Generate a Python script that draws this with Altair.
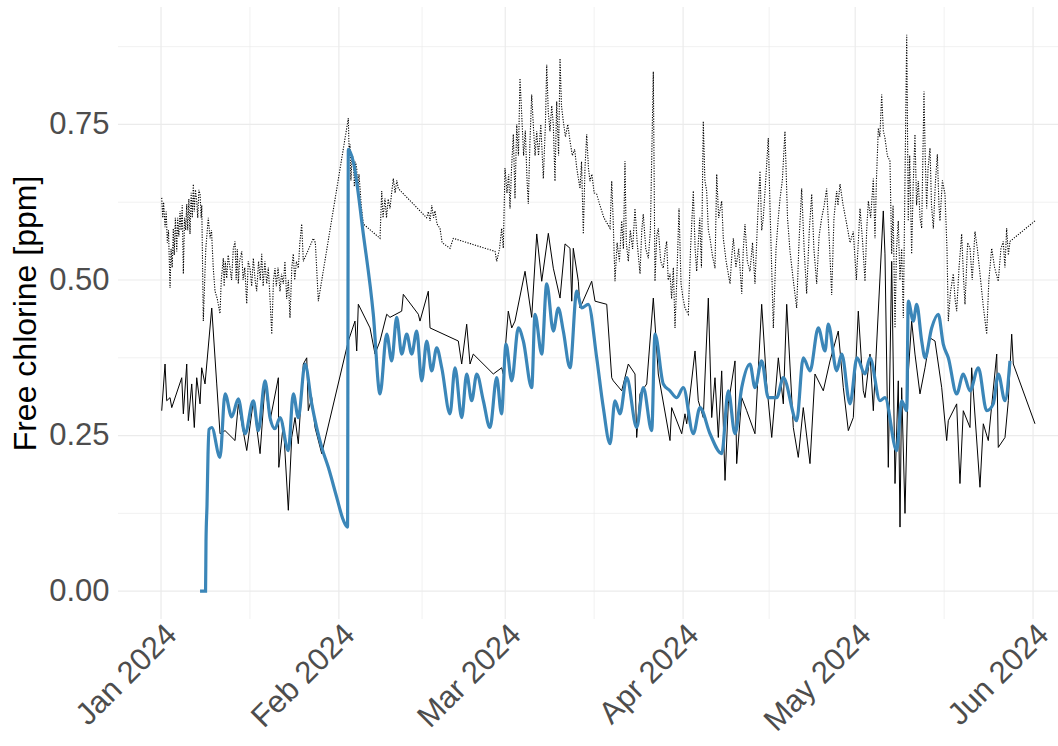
import altair as alt
import pandas as pd

# ---------------- data (days since 2024-01-01, free chlorine ppm) ----------------
dotted_days = [0.12, 0.30, 0.45, 0.70, 0.90, 1.10, 1.30, 1.57, 1.75, 1.95, 2.14, 2.30, 2.50, 2.74, 2.90,
               3.10, 3.31, 3.50, 3.70, 3.89, 4.10, 4.30, 4.48, 4.65, 4.85, 5.05, 5.25, 5.45, 5.63, 5.80,
               6.00, 6.22, 6.40, 6.60, 6.80, 7.00, 7.10, 7.37, 7.80, 8.24, 8.54, 8.80, 9.10, 9.41, 9.80,
               10.28, 10.50, 10.86, 11.00, 11.20, 11.45, 11.70, 12.03, 12.30, 12.60, 12.90, 13.10,
               13.30, 13.47, 13.70, 14.07, 14.30, 14.60, 14.94, 15.20, 15.51, 15.80, 16.09, 16.40,
               16.68, 17.00, 17.30, 17.55, 17.80, 18.10, 18.42, 18.70, 19.00, 19.30, 19.60, 19.87,
               20.10, 20.40, 20.74, 21.00, 21.32, 21.60, 21.90, 22.20, 22.48, 22.80, 23.06, 23.30,
               23.60, 23.93, 24.20, 24.52, 24.80, 26.55, 26.90, 27.42,
               32.65, 32.80, 32.94, 33.10, 33.30, 33.52, 33.70, 33.90, 34.11, 34.30, 34.50, 34.69,
               34.90, 35.26, 38.17, 38.47, 38.70, 39.04, 39.30, 39.60, 39.91, 40.20, 40.49, 40.80,
               41.10, 41.36, 46.30, 46.60, 46.89, 47.20, 47.50, 47.76, 48.10, 48.63, 49.00, 50.37,
               50.95, 58.22, 58.51, 59.00, 59.38, 59.66, 59.96, 60.30, 60.60, 60.83, 61.10, 61.41,
               61.70, 62.00, 62.30, 62.57, 62.87, 63.20, 63.50, 63.80, 64.02, 64.30, 64.61, 64.89,
               65.20, 65.49, 65.80, 66.20, 66.64, 67.00, 67.23, 67.50, 67.80, 68.10, 68.38, 68.67,
               68.97, 69.30, 69.55, 69.80, 70.12, 70.50, 70.90, 71.29, 71.70, 72.10, 72.46, 73.03,
               73.30, 73.61, 73.90, 74.20, 74.50, 74.77, 75.10, 75.50, 75.94, 76.50, 77.20, 78.26,
               78.56, 78.80, 79.13, 79.50, 79.90, 80.30, 80.60, 80.87, 81.10, 81.45, 81.80, 82.20,
               82.62, 83.00, 83.49, 83.80, 84.06, 84.50, 84.94, 85.30, 85.81, 86.10, 86.40, 86.68,
               87.10, 87.55, 87.90, 88.14, 88.40, 88.72, 89.00, 89.30, 89.59, 89.90, 90.29, 90.64,
               91.00, 91.33, 91.91, 92.30, 92.78, 93.10, 93.37, 93.90, 94.20, 94.52, 94.80, 95.11,
               95.40, 95.69, 96.10, 96.56, 96.86, 97.20, 97.73, 98.01, 98.50, 99.18, 99.50, 99.76,
               100.20, 100.70, 101.22, 101.50, 101.79, 102.20, 102.66, 103.10, 103.53, 104.00,
               104.41, 104.70, 104.98, 105.40, 105.85, 106.20, 106.73, 107.20, 107.60, 107.90,
               108.30, 108.76, 109.20, 109.64, 110.20, 110.80, 111.20, 111.67, 112.10, 112.54,
               113.00, 113.42, 113.80, 114.29, 114.70, 115.16, 115.60, 116.03, 116.50, 116.90,
               117.30, 117.77, 118.00, 118.35, 118.90, 119.52, 120.10, 120.67, 121.20, 121.84,
               122.30, 122.71, 123.00, 123.29, 123.70, 124.16, 124.45, 124.70, 125.03, 125.30,
               125.62, 125.90, 126.19, 126.60, 127.06, 127.36, 127.60, 127.94, 128.20, 128.51,
               128.80, 129.10, 129.39, 129.60, 129.98, 130.25, 130.50, 130.84, 131.10, 131.42,
               131.70, 132.00, 132.30, 132.59, 132.99, 133.20, 133.46, 133.70, 134.04, 134.30,
               134.62, 135.00, 135.32, 135.60, 135.78, 136.20, 136.65, 137.00, 137.23, 137.60,
               138.10, 138.40, 138.69, 139.10, 139.56, 139.90, 140.14, 140.60, 141.01, 141.40,
               141.88, 142.30, 142.75, 143.30, 143.92, 144.30, 144.79, 145.30, 145.94, 146.40,
               146.81, 147.10, 147.40, 147.70, 147.98, 152.34]
dotted_vals = [0.632, 0.600, 0.625, 0.585, 0.610, 0.560, 0.580, 0.487, 0.550, 0.520, 0.583, 0.540, 0.600,
               0.546, 0.600, 0.570, 0.611, 0.580, 0.620, 0.510, 0.600, 0.580, 0.622, 0.580, 0.630,
               0.574, 0.640, 0.600, 0.654, 0.610, 0.645, 0.627, 0.600, 0.645, 0.638, 0.600, 0.620,
               0.434, 0.550, 0.600, 0.567, 0.580, 0.520, 0.482, 0.470, 0.446, 0.500, 0.535, 0.490,
               0.530, 0.503, 0.540, 0.519, 0.500, 0.550, 0.562, 0.500, 0.550, 0.494, 0.530, 0.546,
               0.500, 0.520, 0.462, 0.530, 0.519, 0.490, 0.535, 0.500, 0.482, 0.530, 0.500, 0.542,
               0.490, 0.530, 0.494, 0.520, 0.470, 0.413, 0.500, 0.519, 0.490, 0.520, 0.482, 0.510,
               0.494, 0.530, 0.470, 0.500, 0.439, 0.520, 0.542, 0.500, 0.530, 0.519, 0.560, 0.590,
               0.530, 0.567, 0.560, 0.466,
               0.760, 0.700, 0.718, 0.660, 0.700, 0.696, 0.650, 0.690, 0.680, 0.640, 0.670, 0.647,
               0.620, 0.590, 0.567, 0.643, 0.600, 0.631, 0.600, 0.630, 0.615, 0.640, 0.663, 0.640,
               0.660, 0.647, 0.600, 0.610, 0.595, 0.620, 0.600, 0.611, 0.590, 0.583, 0.560, 0.551,
               0.567, 0.546, 0.530, 0.550, 0.583, 0.551, 0.680, 0.640, 0.670, 0.615, 0.680, 0.734,
               0.631, 0.750, 0.700, 0.824, 0.766, 0.700, 0.740, 0.660, 0.622, 0.720, 0.798, 0.750,
               0.700, 0.739, 0.700, 0.750, 0.663, 0.750, 0.846, 0.770, 0.739, 0.780, 0.750, 0.659,
               0.787, 0.700, 0.856, 0.780, 0.755, 0.730, 0.750, 0.723, 0.700, 0.710, 0.680, 0.647,
               0.690, 0.574, 0.680, 0.734, 0.680, 0.659, 0.670, 0.640, 0.638, 0.620, 0.600, 0.583,
               0.659, 0.600, 0.498, 0.560, 0.530, 0.595, 0.550, 0.691, 0.560, 0.530, 0.580, 0.550,
               0.615, 0.560, 0.510, 0.580, 0.606, 0.550, 0.535, 0.580, 0.835, 0.498, 0.570, 0.583,
               0.530, 0.519, 0.550, 0.562, 0.500, 0.510, 0.470, 0.520, 0.423, 0.500, 0.615, 0.494,
               0.470, 0.455, 0.445, 0.550, 0.643, 0.550, 0.514, 0.600, 0.520, 0.755, 0.660, 0.643,
               0.580, 0.567, 0.540, 0.519, 0.670, 0.600, 0.627, 0.567, 0.530, 0.494, 0.540, 0.567,
               0.520, 0.550, 0.478, 0.550, 0.590, 0.530, 0.514, 0.560, 0.494, 0.600,
               0.675, 0.580, 0.600, 0.660, 0.728, 0.600, 0.423, 0.550, 0.600, 0.631,
               0.660, 0.739, 0.600, 0.546, 0.500, 0.455, 0.560, 0.647, 0.550, 0.478,
               0.580, 0.638, 0.550, 0.494, 0.570, 0.600, 0.620, 0.647, 0.560, 0.476,
               0.600, 0.643, 0.620, 0.654, 0.620, 0.590, 0.560, 0.578, 0.500, 0.615,
               0.560, 0.498, 0.580, 0.627, 0.600, 0.663, 0.567, 0.660, 0.744, 0.730,
               0.798, 0.740, 0.728, 0.700, 0.691, 0.542, 0.620, 0.423, 0.550, 0.595,
               0.500, 0.550, 0.439, 0.600, 0.894, 0.595, 0.700, 0.542, 0.650, 0.734,
               0.620, 0.659, 0.600, 0.583, 0.803, 0.700, 0.615, 0.680, 0.712, 0.620,
               0.583, 0.660, 0.702, 0.620, 0.595, 0.660, 0.638, 0.550, 0.434, 0.480,
               0.510, 0.470, 0.450, 0.520, 0.574, 0.500, 0.461, 0.560, 0.551, 0.500,
               0.578, 0.550, 0.510, 0.460, 0.413, 0.500, 0.551, 0.520, 0.498, 0.550,
               0.562, 0.520, 0.583, 0.540, 0.562, 0.595]

solid_days = [0.12, 0.70, 0.99, 1.57, 1.87, 3.61, 3.89, 4.48, 4.76, 5.35, 5.80, 6.22, 6.80, 7.09, 7.67,
              8.84, 9.71, 10.28, 11.16, 12.90, 13.47, 14.94, 16.09, 17.26, 18.13, 19.00, 20.45, 20.53,
              21.32, 22.19, 22.78, 23.36, 23.93, 24.80, 25.40, 25.67, 26.27, 26.84, 28.01, 32.65,
              33.81, 34.11, 34.39, 36.43, 37.30, 38.17, 39.34, 39.91, 41.95, 42.23, 44.85, 45.14,
              46.59, 46.89, 51.82, 52.41, 53.28, 53.86, 54.43, 57.92, 59.38, 59.66, 60.53, 61.13,
              61.70, 63.45, 64.61, 65.49, 66.36, 67.51, 68.38, 69.55, 70.42, 71.29, 71.59, 71.86,
              72.74, 73.03, 75.07, 75.65, 77.69, 78.56, 78.84, 80.30, 81.45, 82.62, 82.91, 83.49,
              84.66, 85.81, 86.68, 88.72, 89.01, 90.76, 91.33, 91.63, 93.08, 93.65, 94.52, 95.40,
              95.99, 96.56, 97.14, 97.73, 98.31, 98.88, 100.05, 100.34, 101.22, 102.09, 103.53,
              104.70, 105.57, 106.45, 107.60, 108.47, 109.06, 110.21, 111.08, 111.95, 113.12,
              113.99, 115.44, 116.61, 118.05, 118.93, 119.80, 120.67, 121.54, 122.41, 122.71,
              123.58, 124.16, 125.90, 126.19, 126.77, 127.36, 127.94, 128.51, 128.81, 129.10,
              129.68, 130.25, 130.84, 131.42, 132.29, 133.17, 134.04, 134.91, 136.08, 136.95,
              137.23, 138.69, 139.26, 139.84, 141.01, 141.30, 142.75, 143.33, 144.20, 145.67,
              145.94, 147.11, 147.69, 148.28, 148.56, 152.34]
solid_vals = [0.290, 0.365, 0.306, 0.311, 0.295, 0.343, 0.285, 0.365, 0.274, 0.333, 0.263, 0.343, 0.301,
              0.359, 0.333, 0.455, 0.333, 0.253, 0.258, 0.242, 0.301, 0.226, 0.306, 0.221, 0.333,
              0.274, 0.343, 0.199, 0.269, 0.130, 0.247, 0.279, 0.237, 0.365, 0.375, 0.290, 0.311,
              0.263, 0.221, 0.402,
              0.434, 0.386, 0.461, 0.423, 0.381, 0.402, 0.445, 0.440, 0.450, 0.477, 0.445, 0.434,
              0.482, 0.423, 0.402, 0.365, 0.429, 0.365, 0.381, 0.349, 0.359, 0.349, 0.450, 0.423,
              0.434, 0.514, 0.440, 0.574, 0.498, 0.575, 0.519, 0.471, 0.558, 0.551, 0.466, 0.551,
              0.498, 0.455, 0.498, 0.466, 0.461, 0.343, 0.338, 0.322, 0.365, 0.349, 0.247, 0.317,
              0.333, 0.471, 0.349, 0.242, 0.295, 0.253, 0.285, 0.269, 0.386, 0.306, 0.279, 0.471,
              0.279, 0.343, 0.247, 0.354, 0.178, 0.301, 0.370, 0.205, 0.311, 0.290, 0.253,
              0.461, 0.333, 0.247, 0.375, 0.301, 0.461, 0.263, 0.215, 0.295, 0.205,
              0.349, 0.322, 0.370, 0.418, 0.327, 0.258, 0.279, 0.450, 0.322, 0.311,
              0.381, 0.290, 0.611, 0.542, 0.199, 0.530, 0.173, 0.338, 0.103, 0.327,
              0.125, 0.349, 0.434, 0.381, 0.317, 0.359, 0.407, 0.402, 0.327, 0.242,
              0.274, 0.301, 0.173, 0.290, 0.263, 0.359, 0.167, 0.269, 0.242, 0.381,
              0.231, 0.247, 0.306, 0.413, 0.365, 0.269]

model_days = [6.80, 7.76, 7.84, 8.02, 8.19, 8.37, 8.84, 10.28, 11.16, 12.32, 13.47, 14.64, 16.09, 16.96,
              18.13, 19.00, 19.87, 20.74, 22.19, 23.06, 23.93, 25.10, 26.27, 28.01, 29.16, 30.62,
              31.78, 32.51, 32.65, 33.52, 35.26, 37.00, 38.17, 39.34, 40.21, 41.08, 41.95, 42.83,
              43.70, 44.57, 45.44, 46.31, 47.18, 48.05, 48.93, 50.37, 51.24, 52.41, 53.28, 54.15,
              55.03, 56.18, 57.34, 58.51, 59.35, 60.13, 61.13, 62.28, 63.15, 64.61, 65.19, 66.36,
              67.23, 68.38, 69.25, 70.12, 71.29, 72.46, 73.33, 74.48, 75.94, 77.09, 78.26, 79.13,
              80.00, 81.17, 82.91, 84.06, 85.53, 86.10, 87.55, 88.72, 89.89, 91.04, 92.78, 93.95,
              95.69, 97.73, 98.88, 100.05, 101.22, 102.66, 103.53, 104.70, 105.85, 107.32, 108.47,
              110.80, 111.95, 113.12, 114.57, 115.74, 116.31, 117.77, 118.65, 120.09, 121.31,
              122.71, 123.58, 125.32, 126.19, 128.23, 129.10, 129.98, 130.25, 131.13, 131.72,
              132.59, 133.17, 134.33, 135.48, 136.35, 137.23, 138.69, 139.84, 141.01, 142.46,
              143.92, 145.07, 145.94, 147.11, 147.98]
model_vals = [0.000, 0.000, 0.080, 0.140, 0.220, 0.260, 0.263, 0.215, 0.317, 0.280, 0.309, 0.253, 0.306,
              0.258, 0.338, 0.279, 0.261, 0.279, 0.226, 0.317, 0.279, 0.365, 0.301, 0.231, 0.199,
              0.151, 0.114, 0.103, 0.710, 0.690, 0.574, 0.445, 0.317, 0.413, 0.370, 0.440, 0.381,
              0.413, 0.381, 0.418, 0.338, 0.402, 0.354, 0.391, 0.359, 0.285, 0.359, 0.279, 0.349,
              0.306, 0.349, 0.306, 0.263, 0.343, 0.285, 0.397, 0.338, 0.423, 0.402, 0.327, 0.445,
              0.381, 0.494, 0.418, 0.455, 0.418, 0.359, 0.482, 0.455, 0.461, 0.375, 0.295, 0.237,
              0.306, 0.285, 0.343, 0.263, 0.327, 0.258, 0.413, 0.333, 0.322, 0.311, 0.327, 0.253,
              0.295, 0.253, 0.221, 0.322, 0.253, 0.327, 0.365, 0.327, 0.370, 0.311, 0.311, 0.343,
              0.274, 0.375, 0.354, 0.423, 0.386, 0.429, 0.354, 0.381, 0.301, 0.375, 0.349, 0.375,
              0.306, 0.311, 0.226, 0.306, 0.290, 0.466, 0.434, 0.461, 0.402, 0.375, 0.423, 0.445,
              0.397, 0.375, 0.317, 0.349, 0.322, 0.359, 0.290, 0.301, 0.349, 0.306, 0.370]

y_major = [0.0, 0.25, 0.5, 0.75]
y_minor = [0.125, 0.375, 0.625, 0.875]
x_major = ["2024-01-01", "2024-02-01", "2024-03-01", "2024-04-01", "2024-05-01", "2024-06-01"]
x_minor = ["2024-01-16T12:00:00", "2024-02-15T12:00:00", "2024-03-16T12:00:00",
           "2024-04-16T00:00:00", "2024-05-16T12:00:00"]

# ---------------- build tables ----------------
base = pd.Timestamp("2024-01-01")


def frame(days, vals):
    return pd.DataFrame({
        "date": [(base + pd.to_timedelta(d, unit="D")).strftime("%Y-%m-%dT%H:%M:%S") for d in days],
        "value": vals,
    })


dotted_df = frame(dotted_days, dotted_vals)
solid_df = frame(solid_days, solid_vals)
model_df = frame(model_days, model_vals)

FONT = "Liberation Sans"
W, H = 940, 612

x_scale = alt.Scale(domain=[alt.DateTime(year=2023, month=12, date=24, hours=12),
                            alt.DateTime(year=2024, month=6, date=5, hours=8, minutes=24)])
y_scale = alt.Scale(domain=[-0.0447, 0.9387], nice=False, zero=False)

x_enc = alt.X("date:T", scale=x_scale,
              axis=alt.Axis(values=[alt.DateTime(year=2024, month=m, date=1) for m in range(1, 7)],
                            format="%b %Y", labelAngle=315, labelAlign="right", labelBaseline="top",
                            labelFontSize=31, labelFont=FONT, labelColor="#4d4d4d", labelPadding=0,
                            ticks=False, domain=False, grid=False, title=None, labelOverlap=False))
y_enc = alt.Y("value:Q", scale=y_scale,
              axis=alt.Axis(values=y_major, format=".2f", labelFontSize=31, labelFont=FONT,
                            labelColor="#4d4d4d", labelPadding=9, ticks=False, domain=False,
                            grid=False, title="Free chlorine [ppm]", titleFontSize=32, titleFont=FONT,
                            titleFontWeight="normal", titleColor="#000000", titleAngle=270,
                            titleX=-93, titleY=H / 2, titleAlign="center", titleBaseline="middle"))

grid_col = "#ebebeb"
hmaj = alt.Chart(pd.DataFrame({"v": y_major})).mark_rule(color=grid_col, strokeWidth=1.2).encode(
    y=alt.Y("v:Q", scale=y_scale))
hmin = alt.Chart(pd.DataFrame({"v": y_minor})).mark_rule(color=grid_col, strokeWidth=0.7).encode(
    y=alt.Y("v:Q", scale=y_scale))
vmaj = alt.Chart(pd.DataFrame({"d": x_major})).mark_rule(color=grid_col, strokeWidth=1.2).encode(
    x=alt.X("d:T", scale=x_scale))
vmin = alt.Chart(pd.DataFrame({"d": x_minor})).mark_rule(color=grid_col, strokeWidth=0.7).encode(
    x=alt.X("d:T", scale=x_scale))

dotted = alt.Chart(dotted_df).mark_line(color="black", strokeWidth=1.1, strokeDash=[1.2, 1.4]).encode(
    x=x_enc, y=y_enc)
solid = alt.Chart(solid_df).mark_line(color="black", strokeWidth=1.0).encode(
    x=alt.X("date:T", scale=x_scale), y=alt.Y("value:Q", scale=y_scale))
model = alt.Chart(model_df).mark_line(color="#3b86b8", strokeWidth=3.2, interpolate="monotone").encode(
    x=alt.X("date:T", scale=x_scale), y=alt.Y("value:Q", scale=y_scale))

chart = alt.layer(hmin, hmaj, vmin, vmaj, dotted, solid, model).properties(
    width=W, height=H,
    autosize=alt.AutoSizeParams(type="none"),
    padding={"left": 118, "top": 7, "right": 0, "bottom": 127},
    background="white",
).configure_view(stroke=None)

chart.save("out.html", embed_options={"renderer": "svg", "actions": False})
